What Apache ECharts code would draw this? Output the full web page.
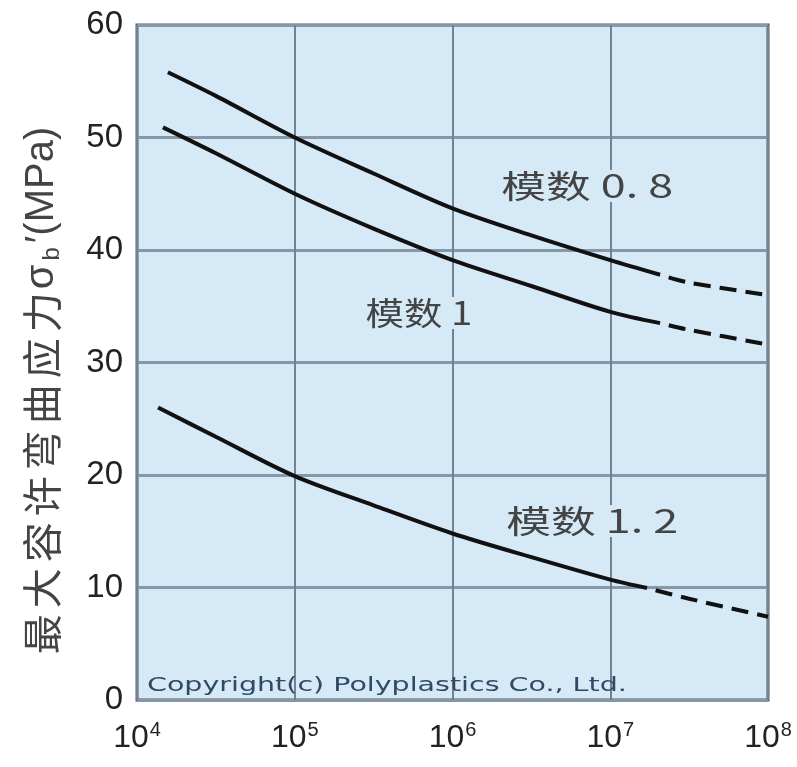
<!DOCTYPE html>
<html>
<head>
<meta charset="utf-8">
<script src="https://cdn.jsdelivr.net/npm/echarts@6/dist/echarts.min.js"></script>
<style>
html,body{margin:0;padding:0;background:#fff;}
#chart{width:797px;height:767px;}
</style>
</head>
<body>
<div id="chart"></div>
<script>
// ---- data ----
const xTickExps = [4, 5, 6, 7, 8];
const yTicks = [0, 10, 20, 30, 40, 50, 60];

const cycles08 = [15700, 31600, 1e5, 3.16e5, 1e6, 3.16e6, 1e7, 2.07e7];
const stress08 = [55.8, 53.7, 50.0, 46.8, 43.7, 41.3, 39.1, 37.8];
const cycles08Dash = [2.07e7, 3.16e7, 1e8];
const stress08Dash = [37.8, 37.1, 36.0];

const cycles10 = [14600, 31600, 1e5, 3.16e5, 1e6, 3.16e6, 1e7, 2.07e7];
const stress10 = [50.9, 48.6, 45.0, 41.9, 39.1, 36.8, 34.5, 33.5];
const cycles10Dash = [2.07e7, 3.16e7, 1e8];
const stress10Dash = [33.5, 32.9, 31.6];

const cycles12 = [13600, 31600, 1e5, 3.16e5, 1e6, 3.16e6, 1e7, 1.71e7];
const stress12 = [26.0, 23.4, 19.9, 17.3, 14.8, 12.7, 10.7, 9.95];
const cycles12Dash = [1.71e7, 3.16e7, 1e8];
const stress12Dash = [9.95, 9.0, 7.4];

const curveLabels = ['模数 0. 8', '模数 1', '模数 1. 2'];
const copyright = 'Copyright(c) Polyplastics Co., Ltd.';
const yTitleChars = ['最', '大', '容', '许', '弯', '曲', '应', '力'];

function pairs(xs, ys) { return xs.map((x, i) => [x, ys[i]]); }

const chart = echarts.init(document.getElementById('chart'), null, {renderer: 'canvas'});
const plotBg = '#d6e9f7';
const lineStyleSolid = {color: '#111', width: 4};
const lineStyleDash = {color: '#111', width: 4, type: [17, 9], dashOffset: 17};

function lineSeries(name, xs, ys, style) {
  return {
    name: name, type: 'line', data: pairs(xs, ys), smooth: 0.3,
    showSymbol: false, symbol: 'none', lineStyle: style, z: 5, silent: true
  };
}

function curveLabel(text, x, y, sx) {
  return {
    type: 'text', x: x, y: y, scaleX: sx, z: 10,
    style: {
      text: text, fill: '#444', verticalAlign: 'middle',
      font: '32px "Noto Sans CJK SC", "Liberation Sans", sans-serif',
      backgroundColor: plotBg, padding: [0, 3]
    }
  };
}

const option = {
  animation: false,
  backgroundColor: '#fff',
  grid: {
    left: 137, top: 25, right: 29, bottom: 67,
    show: true, backgroundColor: plotBg, borderColor: '#4e5962', borderWidth: 3
  },
  xAxis: {
    type: 'log', logBase: 10, min: 1e4, max: 1e8,
    axisLine: {show: false}, axisTick: {show: false},
    splitLine: {show: true, lineStyle: {color: '#6f8394', width: 2}},
    axisLabel: {
      margin: 20,
      formatter: v => '{b|10}{s|' + Math.round(Math.log10(v)) + '}',
      rich: {
        b: {fontSize: 32, color: '#222', fontFamily: 'Liberation Sans', verticalAlign: 'bottom', lineHeight: 34},
        s: {fontSize: 20, color: '#222', fontFamily: 'Liberation Sans', verticalAlign: 'top', lineHeight: 34, padding: [0, 0, 0, 1]}
      },
      customValues: xTickExps.map(e => Math.pow(10, e))
    }
  },
  yAxis: {
    type: 'value', min: yTicks[0], max: yTicks[yTicks.length - 1], interval: 10,
    axisLine: {show: false}, axisTick: {show: false},
    splitLine: {show: true, lineStyle: {color: '#8498a9', width: 3}},
    axisLabel: {margin: 14, fontSize: 33, color: '#222', fontFamily: 'Liberation Sans'}
  },
  series: [
    lineSeries('m08', cycles08, stress08, lineStyleSolid),
    lineSeries('m08d', cycles08Dash, stress08Dash, lineStyleDash),
    lineSeries('m10', cycles10, stress10, lineStyleSolid),
    lineSeries('m10d', cycles10Dash, stress10Dash, lineStyleDash),
    lineSeries('m12', cycles12, stress12, lineStyleSolid),
    lineSeries('m12d', cycles12Dash, stress12Dash, lineStyleDash)
  ],
  graphic: [
    curveLabel(curveLabels[0], 497, 186, 1.4),
    curveLabel(curveLabels[1], 362, 313, 1.2),
    curveLabel(curveLabels[2], 502, 521, 1.4),
    {type: 'text', x: 147, y: 686, scaleX: 1.5, z: 10,
     style: {text: copyright, fill: '#2d4a66', verticalAlign: 'middle', font: '19px "DejaVu Sans", sans-serif'}},
    {
      type: 'text', x: 42, y: 392, rotation: Math.PI / 2, z: 10,
      style: {
        text: yTitleChars.map(c => '{c|' + c + '}').join('') + '{g|σ}{sb|b}{g|′(MPa)}',
        align: 'center', verticalAlign: 'middle',
        rich: {
          c: {fontSize: 40, fill: '#444', fontFamily: 'Noto Sans CJK SC', lineHeight: 44, padding: [0, 3]},
          g: {fontSize: 40, fill: '#444', fontFamily: 'Liberation Sans', lineHeight: 44},
          sb: {fontSize: 24, fill: '#444', fontFamily: 'Liberation Sans', lineHeight: 44, verticalAlign: 'bottom', padding: [0, 4]}
        }
      }
    }
  ]
};
chart.setOption(option);
</script>
</body>
</html>
